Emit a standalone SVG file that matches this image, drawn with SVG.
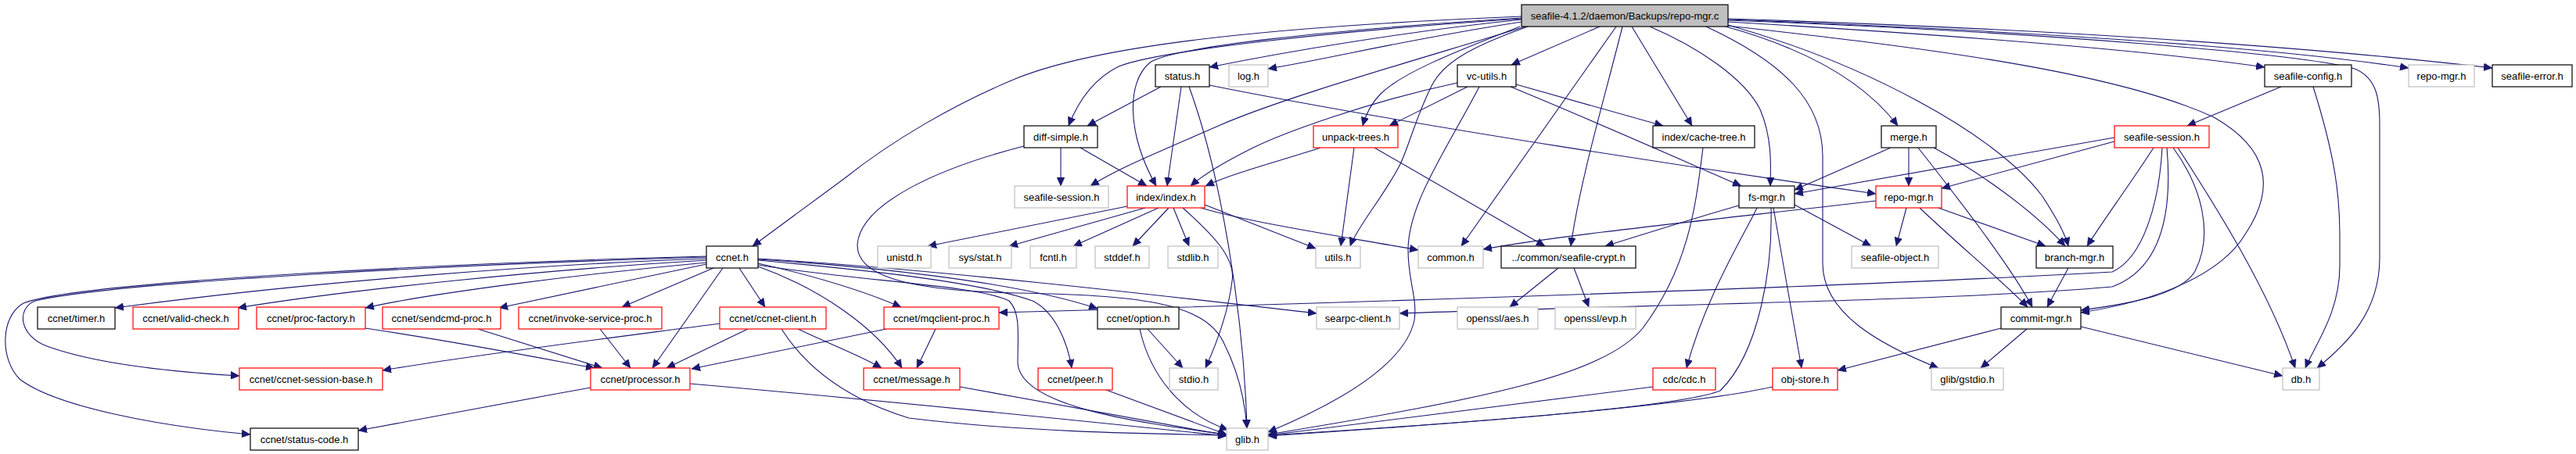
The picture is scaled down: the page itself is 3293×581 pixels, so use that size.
<svg xmlns="http://www.w3.org/2000/svg" width="3293" height="581" viewBox="0 0 3293 581">
<style>
rect{fill:#fff;stroke-width:1.2}
.b rect{stroke:#000}
.g rect{stroke:#bfbfbf}
.r rect{stroke:#ff0000}
.root rect{fill:#bfbfbf;stroke:#000}
text{font-family:"Liberation Sans",Arial,Helvetica,sans-serif;font-size:13px;text-anchor:middle;fill:#000}
#edges path{fill:none;stroke:#191970;stroke-width:1.1;marker-end:url(#a)}
</style>
<defs>
<marker id="a" markerWidth="12" markerHeight="10" refX="11" refY="5" orient="auto" markerUnits="userSpaceOnUse"><path d="M0,0 L11,5 L0,10 z" fill="#191970" stroke="#191970" stroke-width="0.5"/></marker>
</defs>
<rect x="0" y="0" width="3293" height="581" style="fill:#fff;stroke:none"/>
<g id="edges">
<path d="M1945,21 C1600,35 1400,60 1300,100 C1220,133 1140,180 1080,228 L962,315"/>
<path d="M1945,25 C1800,40 1650,65 1546,86"/>
<path d="M1945,28 C1800,50 1700,75 1621,88"/>
<path d="M1945,24 C1700,40 1480,65 1430,85 C1400,100 1380,125 1366,161"/>
<path d="M1945,23 C1700,38 1500,60 1470,80 C1440,105 1440,170 1478,238"/>
<path d="M1943,34 C1850,70 1790,95 1765,120 C1750,135 1745,150 1742,161"/>
<path d="M1953,34 C1880,60 1845,80 1830,110 C1810,150 1800,190 1790,210 C1770,250 1735,290 1726,315"/>
<path d="M2045,34 L1932,83"/>
<path d="M2066,34 L1868,315"/>
<path d="M2074,34 C2050,130 2020,230 2008,315"/>
<path d="M2086,34 L2163,161"/>
<path d="M2109,34 C2170,60 2230,100 2250,140 C2265,175 2264,210 2263,238"/>
<path d="M2181,34 C2280,80 2330,130 2330,200 L2330,337 C2330,400 2400,440 2478,471"/>
<path d="M2206,34 C2300,60 2380,100 2426,161"/>
<path d="M2209,32 C2380,80 2550,170 2610,250 C2630,280 2640,300 2644,315"/>
<path d="M2209,33 C2450,60 2700,90 2830,150 C2900,190 2910,240 2870,300 C2840,350 2760,385 2660,400"/>
<path d="M2209,28 C2500,45 2750,65 2895,86"/>
<path d="M2209,25 C2600,40 2900,60 3079,87"/>
<path d="M2209,24 C2650,38 2950,60 3186,87"/>
<path d="M2209,26 C2600,40 2950,70 3010,88 C3040,100 3042,130 3042,160 L3042,330 C3042,400 3000,440 2962,471"/>
<path d="M1950,34 C1800,80 1640,125 1560,160 C1480,195 1430,215 1394,238"/>
<path d="M1863,106 C1750,130 1640,170 1600,190 C1570,205 1540,222 1522,238"/>
<path d="M1876,111 L1776,161"/>
<path d="M1938,108 L2126,161"/>
<path d="M1931,111 C2050,160 2150,205 2226,238"/>
<path d="M1891,111 C1850,190 1800,260 1800,320 C1800,360 1812,380 1808,410 C1795,470 1700,520 1621,553"/>
<path d="M1688,189 C1640,205 1580,220 1541,238"/>
<path d="M1731,189 L1714,315"/>
<path d="M1757,189 L1975,315"/>
<path d="M2177,189 C2168,260 2160,340 2100,420 C2050,480 1900,510 1621,556"/>
<path d="M2417,189 L2294,243"/>
<path d="M2440,189 L2440,238"/>
<path d="M2452,189 C2500,250 2570,340 2598,393"/>
<path d="M2472,189 C2530,220 2600,270 2640,315"/>
<path d="M2703,176 L2294,248"/>
<path d="M2703,181 L2482,241"/>
<path d="M2753,189 C2720,240 2690,280 2668,315"/>
<path d="M2764,189 C2760,260 2740,330 2700,348 C2400,365 1800,385 1277,400"/>
<path d="M2770,189 C2778,280 2760,345 2700,367 C2500,385 2100,390 1789,401"/>
<path d="M2778,189 C2815,240 2830,300 2806,347 C2790,375 2730,388 2660,397"/>
<path d="M2784,189 C2830,260 2900,370 2934,471"/>
<path d="M2223,263 C2180,275 2100,300 2052,315"/>
<path d="M2398,257 C2200,280 2000,300 1896,319"/>
<path d="M2246,266 C2230,300 2180,380 2156,471"/>
<path d="M2264,266 C2266,340 2250,450 2199,500 C2150,520 1900,540 1621,557"/>
<path d="M2267,266 L2303,471"/>
<path d="M2294,262 L2392,315"/>
<path d="M2437,266 L2424,315"/>
<path d="M2454,266 C2500,310 2560,360 2592,393"/>
<path d="M2478,266 L2615,315"/>
<path d="M2644,343 L2617,393"/>
<path d="M2558,420 L2349,474"/>
<path d="M2591,421 L2532,471"/>
<path d="M2660,418 L2918,481"/>
<path d="M2916,111 L2796,161"/>
<path d="M2957,111 C2985,200 2991,250 2991,300 L2991,340 C2991,400 2960,440 2947,471"/>
<path d="M1484,111 L1390,161"/>
<path d="M1510,111 L1492,238"/>
<path d="M1520,111 C1560,220 1590,400 1594,548"/>
<path d="M1546,109 C1800,160 2200,220 2398,248"/>
<path d="M1356,189 L1356,238"/>
<path d="M1381,189 L1466,238"/>
<path d="M1309,187 C1200,215 1100,260 1096,313 C1095,350 1150,372 1300,375 C1450,378 1540,385 1565,440 C1585,480 1592,520 1594,548"/>
<path d="M1441,264 L1186,315"/>
<path d="M1464,266 L1290,315"/>
<path d="M1481,266 L1372,315"/>
<path d="M1494,266 L1448,315"/>
<path d="M1500,266 L1520,315"/>
<path d="M1512,266 C1550,300 1580,330 1575,360 C1570,400 1555,440 1541,471"/>
<path d="M1540,262 L1682,318"/>
<path d="M1535,266 C1600,285 1700,300 1813,320"/>
<path d="M1992,343 L1930,393"/>
<path d="M2012,343 L2031,393"/>
<path d="M903,331 C700,338 400,360 147,394"/>
<path d="M903,333 C700,345 450,370 304,394"/>
<path d="M903,336 C750,350 550,375 467,394"/>
<path d="M903,338 L638,394"/>
<path d="M912,343 L795,393"/>
<path d="M924,343 L834,471"/>
<path d="M945,343 L978,393"/>
<path d="M903,329 C600,338 150,360 45,385 C20,395 25,430 60,443 C120,465 220,476 306,481"/>
<path d="M903,328 C600,336 100,360 30,388 C0,405 0,460 25,485 C70,520 200,545 320,556"/>
<path d="M969,337 C1050,355 1110,375 1152,393"/>
<path d="M969,341 C1050,370 1120,420 1153,471"/>
<path d="M969,332 C1100,340 1300,360 1403,395"/>
<path d="M969,333 C1100,345 1250,360 1320,385 C1350,400 1365,440 1370,471"/>
<path d="M969,331 C1200,345 1500,380 1683,401"/>
<path d="M969,339 C1100,360 1250,365 1290,385 C1305,400 1301,430 1301,465 C1305,520 1450,540 1568,556"/>
<path d="M956,421 L852,471"/>
<path d="M920,414 C800,430 600,455 489,474"/>
<path d="M1020,421 C1060,440 1100,455 1127,471"/>
<path d="M999,421 C1030,470 1080,510 1162,535 C1300,552 1450,555 1568,557"/>
<path d="M755,496 C650,515 540,535 458,551"/>
<path d="M882,491 C1100,510 1400,540 1568,558"/>
<path d="M1133,421 L884,472"/>
<path d="M1196,421 L1172,471"/>
<path d="M467,420 C600,440 700,460 760,471"/>
<path d="M611,421 L770,471"/>
<path d="M767,421 L806,471"/>
<path d="M1227,495 L1568,557"/>
<path d="M1414,499 L1568,556"/>
<path d="M1467,421 L1512,471"/>
<path d="M1457,421 C1470,480 1510,530 1570,550"/>
<path d="M2113,495 L1621,557"/>
<path d="M2266,495 C2200,510 2050,530 1621,558"/>
</g>
<g id="n-root" class="root"><rect x="1945" y="6" width="264" height="28"/><text x="2077" y="25">seafile-4.1.2/daemon/Backups/repo-mgr.c</text></g>
<g id="n-status" class="b"><rect x="1477" y="83" width="69" height="28"/><text x="1511.5" y="102">status.h</text></g>
<g id="n-log" class="g"><rect x="1571" y="83" width="50" height="28"/><text x="1596" y="102">log.h</text></g>
<g id="n-vcutils" class="b"><rect x="1863" y="83" width="75" height="28"/><text x="1900.5" y="102">vc-utils.h</text></g>
<g id="n-sconfig" class="b"><rect x="2895" y="83" width="111" height="28"/><text x="2950.5" y="102">seafile-config.h</text></g>
<g id="n-repomgr-g" class="g"><rect x="3079" y="83" width="84" height="28"/><text x="3121" y="102">repo-mgr.h</text></g>
<g id="n-serror" class="b"><rect x="3186" y="83" width="102" height="28"/><text x="3237" y="102">seafile-error.h</text></g>
<g id="n-diffsimple" class="b"><rect x="1309" y="161" width="94" height="28"/><text x="1356" y="180">diff-simple.h</text></g>
<g id="n-unpack" class="r"><rect x="1679" y="161" width="108" height="28"/><text x="1733" y="180">unpack-trees.h</text></g>
<g id="n-cachetree" class="b"><rect x="2113" y="161" width="130" height="28"/><text x="2178" y="180">index/cache-tree.h</text></g>
<g id="n-merge" class="b"><rect x="2405" y="161" width="70" height="28"/><text x="2440" y="180">merge.h</text></g>
<g id="n-ssession-r" class="r"><rect x="2703" y="161" width="121" height="28"/><text x="2763.5" y="180">seafile-session.h</text></g>
<g id="n-ssession-g" class="g"><rect x="1297" y="238" width="120" height="28"/><text x="1357" y="257">seafile-session.h</text></g>
<g id="n-index" class="r"><rect x="1441" y="238" width="99" height="28"/><text x="1490.5" y="257">index/index.h</text></g>
<g id="n-fsmgr" class="b"><rect x="2223" y="238" width="71" height="28"/><text x="2258.5" y="257">fs-mgr.h</text></g>
<g id="n-repomgr-r" class="r"><rect x="2398" y="238" width="84" height="28"/><text x="2440" y="257">repo-mgr.h</text></g>
<g id="n-ccnet" class="b"><rect x="903" y="315" width="66" height="28"/><text x="936" y="334">ccnet.h</text></g>
<g id="n-unistd" class="g"><rect x="1122" y="315" width="68" height="28"/><text x="1156" y="334">unistd.h</text></g>
<g id="n-sysstat" class="g"><rect x="1213" y="315" width="80" height="28"/><text x="1253" y="334">sys/stat.h</text></g>
<g id="n-fcntl" class="g"><rect x="1317" y="315" width="59" height="28"/><text x="1346.5" y="334">fcntl.h</text></g>
<g id="n-stddef" class="g"><rect x="1400" y="315" width="69" height="28"/><text x="1434.5" y="334">stddef.h</text></g>
<g id="n-stdlib" class="g"><rect x="1493" y="315" width="64" height="28"/><text x="1525" y="334">stdlib.h</text></g>
<g id="n-utils" class="g"><rect x="1682" y="315" width="57" height="28"/><text x="1710.5" y="334">utils.h</text></g>
<g id="n-common" class="g"><rect x="1813" y="315" width="83" height="28"/><text x="1854.5" y="334">common.h</text></g>
<g id="n-crypt" class="b"><rect x="1919" y="315" width="172" height="28"/><text x="2005" y="334">../common/seafile-crypt.h</text></g>
<g id="n-sobject" class="g"><rect x="2367" y="315" width="111" height="28"/><text x="2422.5" y="334">seafile-object.h</text></g>
<g id="n-branch" class="b"><rect x="2603" y="315" width="98" height="28"/><text x="2652" y="334">branch-mgr.h</text></g>
<g id="n-timer" class="b"><rect x="48" y="393" width="99" height="28"/><text x="97.5" y="412">ccnet/timer.h</text></g>
<g id="n-valid" class="r"><rect x="170" y="393" width="135" height="28"/><text x="237.5" y="412">ccnet/valid-check.h</text></g>
<g id="n-procfac" class="r"><rect x="328" y="393" width="139" height="28"/><text x="397.5" y="412">ccnet/proc-factory.h</text></g>
<g id="n-sendcmd" class="r"><rect x="489" y="393" width="151" height="28"/><text x="564.5" y="412">ccnet/sendcmd-proc.h</text></g>
<g id="n-invoke" class="r"><rect x="663" y="393" width="183" height="28"/><text x="754.5" y="412">ccnet/invoke-service-proc.h</text></g>
<g id="n-cclient" class="r"><rect x="920" y="393" width="136" height="28"/><text x="988" y="412">ccnet/ccnet-client.h</text></g>
<g id="n-mqclient" class="r"><rect x="1130" y="393" width="147" height="28"/><text x="1203.5" y="412">ccnet/mqclient-proc.h</text></g>
<g id="n-option" class="b"><rect x="1403" y="393" width="104" height="28"/><text x="1455" y="412">ccnet/option.h</text></g>
<g id="n-searpc" class="g"><rect x="1683" y="393" width="106" height="28"/><text x="1736" y="412">searpc-client.h</text></g>
<g id="n-aes" class="g"><rect x="1863" y="393" width="103" height="28"/><text x="1914.5" y="412">openssl/aes.h</text></g>
<g id="n-evp" class="g"><rect x="1988" y="393" width="103" height="28"/><text x="2039.5" y="412">openssl/evp.h</text></g>
<g id="n-commit" class="b"><rect x="2558" y="393" width="102" height="28"/><text x="2609" y="412">commit-mgr.h</text></g>
<g id="n-sessbase" class="r"><rect x="306" y="471" width="183" height="28"/><text x="397.5" y="490">ccnet/ccnet-session-base.h</text></g>
<g id="n-processor" class="r"><rect x="755" y="471" width="127" height="28"/><text x="818.5" y="490">ccnet/processor.h</text></g>
<g id="n-message" class="r"><rect x="1104" y="471" width="123" height="28"/><text x="1165.5" y="490">ccnet/message.h</text></g>
<g id="n-peer" class="r"><rect x="1327" y="471" width="95" height="28"/><text x="1374.5" y="490">ccnet/peer.h</text></g>
<g id="n-stdio" class="g"><rect x="1495" y="471" width="62" height="28"/><text x="1526" y="490">stdio.h</text></g>
<g id="n-cdc" class="r"><rect x="2113" y="471" width="80" height="28"/><text x="2153" y="490">cdc/cdc.h</text></g>
<g id="n-objstore" class="r"><rect x="2266" y="471" width="83" height="28"/><text x="2307.5" y="490">obj-store.h</text></g>
<g id="n-gstdio" class="g"><rect x="2469" y="471" width="92" height="28"/><text x="2515" y="490">glib/gstdio.h</text></g>
<g id="n-db" class="g"><rect x="2918" y="471" width="47" height="28"/><text x="2941.5" y="490">db.h</text></g>
<g id="n-statuscode" class="b"><rect x="320" y="548" width="138" height="28"/><text x="389" y="567">ccnet/status-code.h</text></g>
<g id="n-glib" class="g"><rect x="1568" y="548" width="53" height="28"/><text x="1594.5" y="567">glib.h</text></g>
</svg>
